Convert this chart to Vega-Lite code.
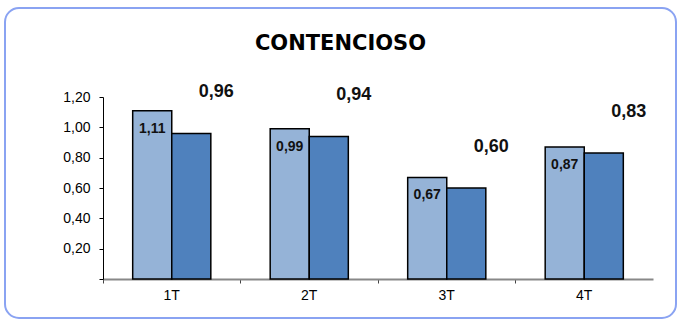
{
  "$schema": "https://vega.github.io/schema/vega-lite/v6.json",
  "width": 671,
  "height": 310,
  "autosize": {"type": "none"},
  "padding": {"left": 5, "top": 8, "right": 2, "bottom": 5},
  "background": "white",
  "config": {
    "locale": {"number": {"decimal": ",", "thousands": ".", "grouping": [3], "currency": ["", " €"]}},
    "view": {"stroke": "#8aa3f2", "strokeWidth": 2, "cornerRadius": 14},
    "font": "Liberation Sans"
  },
  "title": {
    "text": "CONTENCIOSO",
    "font": "DejaVu Sans",
    "fontSize": 21,
    "fontWeight": "bold",
    "color": "black",
    "anchor": "middle",
    "baseline": "alphabetic",
    "offset": -63
  },
  "data": {
    "values": [
      {"q": "1T", "s": "A", "v": 1.11},
      {"q": "1T", "s": "B", "v": 0.96},
      {"q": "2T", "s": "A", "v": 0.99},
      {"q": "2T", "s": "B", "v": 0.94},
      {"q": "3T", "s": "A", "v": 0.67},
      {"q": "3T", "s": "B", "v": 0.60},
      {"q": "4T", "s": "A", "v": 0.87},
      {"q": "4T", "s": "B", "v": 0.83}
    ]
  },
  "encoding": {
    "x": {
      "field": "q",
      "type": "nominal",
      "scale": {"range": [98, 648], "paddingInner": 0, "paddingOuter": 0},
      "axis": {
        "title": null,
        "labelAngle": 0,
        "bandPosition": 0,
        "offset": -39,
        "domainColor": "#888888",
        "domainWidth": 2,
        "tickColor": "#444444",
        "tickSize": 4,
        "labelFont": "Liberation Sans",
        "labelFontSize": 14,
        "labelColor": "#000000",
        "labelPadding": 5,
        "grid": false
      }
    },
    "xOffset": {"field": "s", "type": "nominal", "scale": {"paddingInner": 0, "paddingOuter": 0.76}},
    "y": {
      "field": "v",
      "type": "quantitative",
      "scale": {"domain": [0, 1.2], "range": [271, 89], "nice": false},
      "axis": {
        "title": null,
        "values": [0, 0.2, 0.4, 0.6, 0.8, 1.0, 1.2],
        "format": ".2f",
        "labelExpr": "datum.value == 0 ? '' : datum.label",
        "offset": -98,
        "domainColor": "#000000",
        "domainWidth": 1,
        "tickColor": "#000000",
        "tickSize": 4,
        "labelFont": "Liberation Sans",
        "labelFontSize": 14,
        "labelColor": "#000000",
        "labelPadding": 9,
        "grid": false
      }
    }
  },
  "layer": [
    {
      "mark": {"type": "bar", "stroke": "black", "strokeWidth": 1.5},
      "encoding": {
        "color": {
          "field": "s",
          "type": "nominal",
          "scale": {"domain": ["A", "B"], "range": ["#95b3d7", "#4f81bd"]},
          "legend": null
        }
      }
    },
    {
      "transform": [{"filter": "datum.s == 'A'"}],
      "mark": {"type": "text", "baseline": "middle", "dy": 18, "fontSize": 14, "fontWeight": "bold", "color": "#111111", "font": "Liberation Sans"},
      "encoding": {"text": {"field": "v", "type": "quantitative", "format": ".2f"}}
    },
    {
      "transform": [{"filter": "datum.s == 'B'"}],
      "mark": {"type": "text", "baseline": "middle", "dy": -41, "dx": 25, "fontSize": 18, "fontWeight": "bold", "color": "#111111", "font": "Liberation Sans"},
      "encoding": {"text": {"field": "v", "type": "quantitative", "format": ".2f"}}
    }
  ]
}
